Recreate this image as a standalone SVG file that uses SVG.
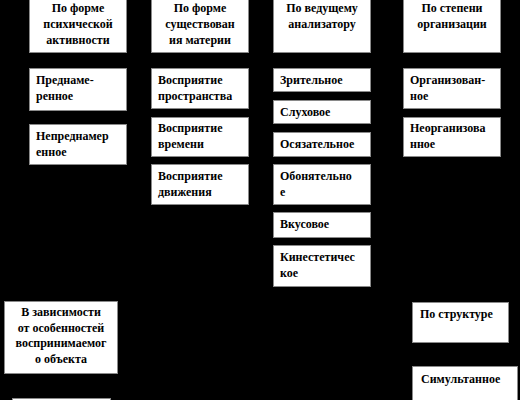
<svg xmlns="http://www.w3.org/2000/svg" width="520" height="400" viewBox="0 0 520 400">
<style>
.b{fill:#fff;stroke:#8a8a8a;stroke-width:1}
text{font-weight:bold;font-size:12px;fill:#000}
.c{text-anchor:middle}
</style>
<rect x="0" y="0" width="520" height="400" fill="#000"/>
<g id="connectors"></g>
<g font-family="Liberation Serif, serif">
<g id="n-psych"><rect class="b" x="29.5" y="-2" width="97" height="54.5"/>
<text class="c" x="78" y="12">По форме</text><text class="c" x="78" y="28">психической</text><text class="c" x="78" y="44">активности</text></g>
<g id="n-matter"><rect class="b" x="151.5" y="-2" width="97" height="54.5"/>
<text class="c" x="200" y="12">По форме</text><text class="c" x="200" y="28">существован</text><text class="c" x="200" y="44">ия материи</text></g>
<g id="n-analyzer"><rect class="b" x="273.5" y="-2" width="97" height="54.5"/>
<text class="c" x="322" y="12">По ведущему</text><text class="c" x="322" y="28">анализатору</text></g>
<g id="n-org"><rect class="b" x="403.5" y="-2" width="97" height="54.5"/>
<text class="c" x="452" y="12">По степени</text><text class="c" x="452" y="28">организации</text></g>

<g id="n-pred"><rect class="b" x="29.5" y="68.5" width="97" height="42"/>
<text x="36" y="84">Преднаме-</text><text x="36" y="100">ренное</text></g>
<g id="n-nepred"><rect class="b" x="29.5" y="124.5" width="97" height="40"/>
<text x="36" y="140">Непреднамер</text><text x="36" y="156">енное</text></g>

<g id="n-space"><rect class="b" x="151.5" y="68.5" width="97" height="40"/>
<text x="158" y="84">Восприятие</text><text x="158" y="100">пространства</text></g>
<g id="n-time"><rect class="b" x="151.5" y="117.5" width="97" height="39"/>
<text x="158" y="132">Восприятие</text><text x="158" y="148">времени</text></g>
<g id="n-move"><rect class="b" x="151.5" y="164.5" width="97" height="40"/>
<text x="158" y="180">Восприятие</text><text x="158" y="196">движения</text></g>

<g id="n-vis"><rect class="b" x="273.5" y="68.5" width="97" height="23"/>
<text x="280" y="84">Зрительное</text></g>
<g id="n-aud"><rect class="b" x="273.5" y="100.5" width="97" height="23"/>
<text x="280" y="116">Слуховое</text></g>
<g id="n-tact"><rect class="b" x="273.5" y="132.5" width="97" height="24"/>
<text x="280" y="148">Осязательное</text></g>
<g id="n-smell"><rect class="b" x="273.5" y="164.5" width="97" height="40"/>
<text x="280" y="180">Обонятельно</text><text x="280" y="196">е</text></g>
<g id="n-taste"><rect class="b" x="273.5" y="212.5" width="97" height="25"/>
<text x="280" y="228">Вкусовое</text></g>
<g id="n-kin"><rect class="b" x="273.5" y="245.5" width="97" height="41"/>
<text x="280" y="261">Кинестетичес</text><text x="280" y="277">кое</text></g>

<g id="n-organized"><rect class="b" x="403.5" y="68.5" width="97" height="40"/>
<text x="410" y="84">Организован-</text><text x="410" y="100">ное</text></g>
<g id="n-unorganized"><rect class="b" x="403.5" y="117.5" width="97" height="39"/>
<text x="410" y="132">Неорганизова</text><text x="410" y="148">нное</text></g>

<g id="n-object"><rect class="b" x="4.5" y="301.5" width="113" height="72"/>
<text class="c" x="61" y="316">В зависимости</text><text class="c" x="61" y="332">от особенностей</text><text class="c" x="61" y="347">воспринимаемог</text><text class="c" x="61" y="363">о объекта</text></g>
<g id="n-bottom"><rect class="b" x="12.5" y="398.5" width="98" height="20"/></g>

<g id="n-struct"><rect class="b" x="412.5" y="302.5" width="96" height="40"/>
<text x="420" y="318">По структуре</text></g>
<g id="n-simul"><rect class="b" x="412.5" y="366.5" width="105" height="40"/>
<text x="421" y="383">Симультанное</text></g>
</g>
</svg>
